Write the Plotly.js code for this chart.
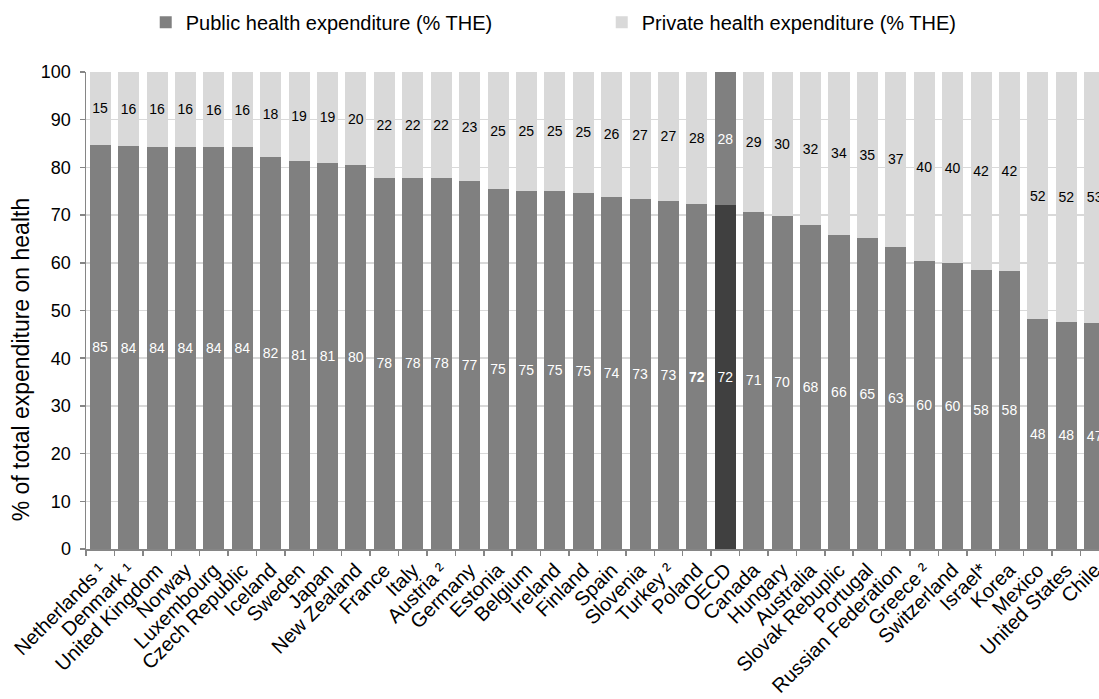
<!DOCTYPE html>
<html>
<head>
<meta charset="utf-8">
<script src="https://cdn.plot.ly/plotly-3.0.1.min.js"></script>
<style>
  html, body { margin: 0; padding: 0; background: #fff; }
  #chart { width: 1099px; height: 699px; }
</style>
</head>
<body>
<div id="chart"></div>
<script>
// Share of total health expenditure (THE), public vs private, by country
const countries = [
  "Netherlands ¹", "Denmark ¹", "United Kingdom", "Norway", "Luxembourg",
  "Czech Republic", "Iceland", "Sweden", "Japan", "New Zealand", "France",
  "Italy", "Austria ²", "Germany", "Estonia", "Belgium", "Ireland", "Finland",
  "Spain", "Slovenia", "Turkey ²", "Poland", "OECD", "Canada", "Hungary",
  "Australia", "Slovak Rebuplic", "Portugal", "Russian Federation", "Greece ²",
  "Switzerland", "Israel*", "Korea", "Mexico", "United States", "Chile"
];

const publicShare = [
  84.7, 84.4, 84.3, 84.3, 84.2, 84.2, 82.2, 81.4, 81.0, 80.4, 77.8, 77.8,
  77.8, 77.1, 75.4, 75.1, 75.1, 74.7, 73.9, 73.4, 73.0, 72.3, 72.1, 70.7,
  69.9, 67.9, 65.9, 65.1, 63.4, 60.3, 59.9, 58.4, 58.3, 48.2, 47.6, 47.4
];

const privateShare = [
  15.3, 15.6, 15.7, 15.7, 15.8, 15.8, 17.8, 18.6, 19.0, 19.6, 22.2, 22.2,
  22.2, 22.9, 24.6, 24.9, 24.9, 25.3, 26.1, 26.6, 27.0, 27.7, 27.9, 29.3,
  30.1, 32.1, 34.1, 34.9, 36.6, 39.7, 40.1, 41.6, 41.7, 51.8, 52.4, 52.6
];

const seriesNames = ["Public health expenditure (% THE)", "Private health expenditure (% THE)"];
const yTicks = [0, 10, 20, 30, 40, 50, 60, 70, 80, 90, 100];

const FONT = "Liberation Sans, Arial, sans-serif";
const average = "OECD";
const boldLabel = "Poland";

const pubColors = countries.map(c => c === average ? "#404040" : "#808080");
const privColors = countries.map(c => c === average ? "#808080" : "#d9d9d9");
const privTextColors = countries.map(c => c === average ? "#ffffff" : "#000000");
const pubTemplates = countries.map(c => c === boldLabel ? "<b>%{y:.0f}</b>" : "%{y:.0f}");

const traces = [
  {
    type: "bar",
    name: seriesNames[0],
    x: countries,
    y: publicShare,
    marker: { color: pubColors, line: { width: 0 } },
    texttemplate: pubTemplates,
    textposition: "inside",
    insidetextanchor: "middle",
    constraintext: "none",
    textangle: 0,
    textfont: { family: FONT, size: 14, color: "#ffffff" },
    hoverinfo: "skip"
  },
  {
    type: "bar",
    name: seriesNames[1],
    x: countries,
    y: privateShare,
    marker: { color: privColors, line: { width: 0 } },
    texttemplate: "%{y:.0f}",
    textposition: "inside",
    insidetextanchor: "middle",
    constraintext: "none",
    textangle: 0,
    textfont: { family: FONT, size: 14, color: privTextColors },
    hoverinfo: "skip"
  }
];

const layout = {
  width: 1099,
  height: 699,
  margin: { l: 86, r: 0, t: 72, b: 150 },
  paper_bgcolor: "#ffffff",
  plot_bgcolor: "#ffffff",
  barmode: "stack",
  bargap: 0.26,
  font: { family: FONT, size: 16, color: "#000000" },
  showlegend: true,
  legend: {
    orientation: "h",
    xref: "container",
    yref: "container",
    x: 0.1326,
    xanchor: "left",
    y: 0.968,
    yanchor: "middle",
    entrywidth: 411,
    font: { family: FONT, size: 20, color: "#000000" },
    traceorder: "normal"
  },
  xaxis: {
    type: "category",
    range: [-0.5, 35.15],
    tickangle: -45,
    tickson: "boundaries",
    ticks: "outside",
    ticklen: 5,
    tickcolor: "#868686",
    tickwidth: 1.5,
    showline: true,
    linecolor: "#868686",
    linewidth: 1.5,
    showgrid: false,
    tickfont: { family: FONT, size: 20, color: "#000000" },
    fixedrange: true
  },
  yaxis: {
    range: [0, 100],
    tickvals: yTicks,
    ticks: "outside",
    ticklen: 5,
    tickcolor: "#868686",
    tickwidth: 1.5,
    showline: true,
    linecolor: "#868686",
    linewidth: 1.5,
    showgrid: true,
    gridcolor: "#d9d9d9",
    gridwidth: 1.5,
    zeroline: false,
    ticklabelstandoff: 5,
    tickfont: { family: FONT, size: 18, color: "#000000" },
    fixedrange: true
  },
  annotations: [
    {
      text: "% of total expenditure on health",
      xref: "paper",
      yref: "paper",
      x: -0.064,
      y: 0.398,
      xanchor: "center",
      yanchor: "middle",
      textangle: -90,
      showarrow: false,
      font: { family: FONT, size: 23, color: "#000000" }
    }
  ]
};

Plotly.newPlot("chart", traces, layout, { displayModeBar: false, staticPlot: true });
</script>
</body>
</html>
